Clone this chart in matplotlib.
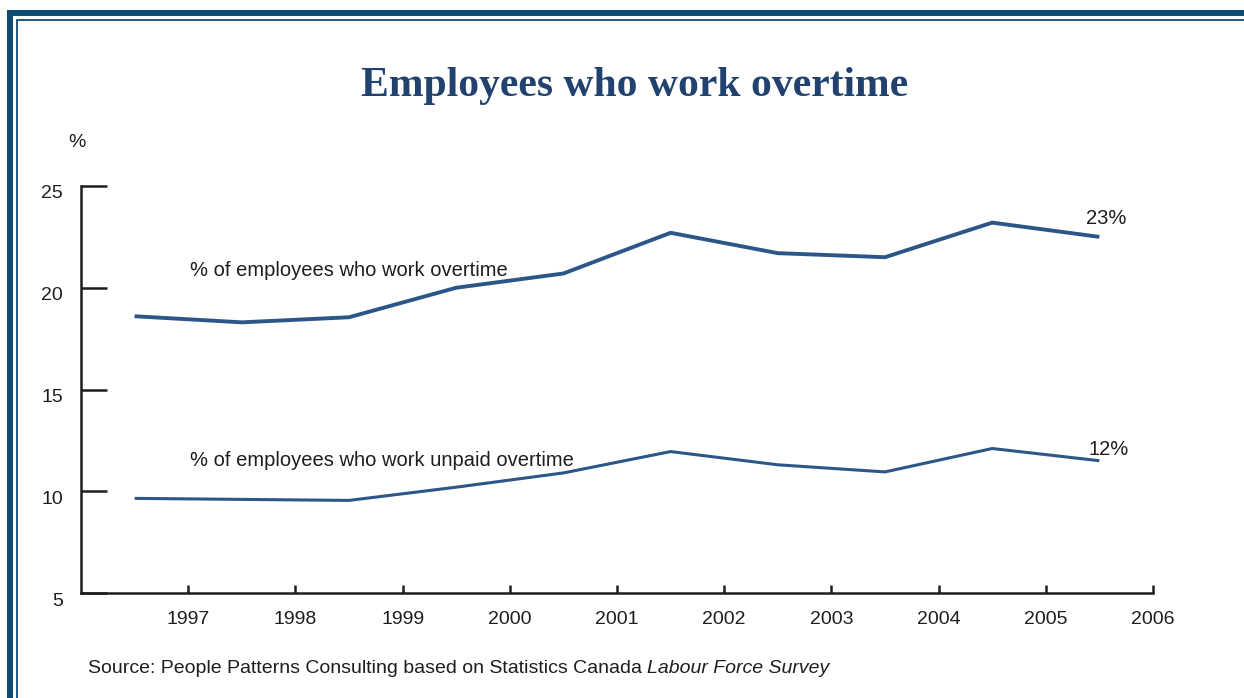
import math
import matplotlib
matplotlib.use("Agg")
import matplotlib.pyplot as plt
from matplotlib.lines import Line2D
from matplotlib.transforms import ScaledTranslation

# Survey years (values plotted mid-year) and shares of employees, in %
years = [1996.5, 1997.5, 1998.5, 1999.5, 2000.5, 2001.5, 2002.5, 2003.5, 2004.5, 2005.5]
overtime = [18.6, 18.3, 18.55, 20.0, 20.7, 22.7, 21.7, 21.5, 23.2, 22.5]
unpaid_overtime = [9.65, 9.6, 9.55, 10.2, 10.9, 11.95, 11.3, 10.95, 12.1, 11.5]

year_ticks = list(range(1997, 2007))
pct_ticks = [5, 10, 15, 20, 25]

title = "Employees who work overtime"
label_overtime = "% of employees who work overtime"
label_unpaid = "% of employees who work unpaid overtime"
source_plain = "Source: People Patterns Consulting based on Statistics Canada "
source_italic = "Labour Force Survey"

W, H, DPI = 1244, 698, 100
line_blue = "#2c5687"
frame_blue = "#0f4a72"
title_blue = "#21426f"
ink = "#1e1e1e"

plt.rcParams["font.family"] = ["Liberation Sans", "DejaVu Sans"]

fig = plt.figure(figsize=(W / DPI, H / DPI), dpi=DPI, facecolor="white")


def fx(px):
    return px / W


def fy(py):
    return 1 - py / H


# Double frame along the top and left edges
fig.add_artist(Line2D([fx(10), fx(10), fx(W + 20)], [fy(H + 20), fy(13), fy(13)],
                      color=frame_blue, lw=6 * 72 / DPI, solid_joinstyle="miter"))
fig.add_artist(Line2D([fx(16.8), fx(16.8), fx(W + 20)], [fy(H + 20), fy(20), fy(20)],
                      color=frame_blue, lw=1.8 * 72 / DPI, solid_joinstyle="miter"))

ax = fig.add_axes([fx(81), fy(593), fx(1153) - fx(81), fy(186) - fy(593)])
ax.set_facecolor("none")

ax.plot(years, overtime, color=line_blue, lw=2.8, solid_capstyle="butt")
ax.plot(years, unpaid_overtime, color=line_blue, lw=2.2, solid_capstyle="butt")

ax.set_xlim(1996, 2006)
ax.set_ylim(5, 25)
ax.set_xticks(year_ticks)
ax.set_xticklabels([str(y) for y in year_ticks])
ax.set_yticks(pct_ticks)
ax.set_yticklabels([str(v) for v in pct_ticks])

for side in ("top", "right"):
    ax.spines[side].set_visible(False)
for side in ("left", "bottom"):
    ax.spines[side].set_linewidth(1.8)
    ax.spines[side].set_color(ink)

ax.tick_params(axis="x", direction="in", length=6, width=1.8, color=ink,
               labelsize=14, labelcolor=ink, pad=13)
ax.tick_params(axis="y", direction="in", length=19, width=1.8, color=ink,
               labelsize=14, labelcolor=ink, pad=13)
shift = ScaledTranslation(0, -6 / DPI, fig.dpi_scale_trans)
for lab in ax.get_yticklabels():
    lab.set_transform(lab.get_transform() + shift)

# Series labels
ax.text(1997.02, 20.6, label_overtime, fontsize=14.5, color=ink, va="baseline", ha="left")
ax.text(1997.02, 11.25, label_unpaid, fontsize=14.5, color=ink, va="baseline", ha="left")

# End-of-series value labels, rounded half up from the last values
for series, offset in ((overtime, (-10, 9)), (unpaid_overtime, (-8, 4))):
    last = series[-1]
    ax.annotate(f"{math.floor(last + 0.5)}%", xy=(years[-1], last),
                xytext=offset, textcoords="offset points",
                fontsize=14.5, color=ink, ha="left", va="baseline")

# Title, unit label and source note
fig.text(fx(635), fy(96), title, fontsize=30, fontweight="bold",
         family=["Liberation Serif", "DejaVu Serif"], color=title_blue,
         ha="center", va="baseline")
fig.text(fx(77), fy(147), "%", fontsize=14, color=ink, ha="center", va="baseline")
src = fig.text(fx(88), fy(673), source_plain, fontsize=14, color=ink,
               ha="left", va="baseline")
src_it = fig.text(fx(88), fy(673), source_italic, fontsize=14, color=ink,
                  style="italic", ha="left", va="baseline")

# Place the italic part right after the plain part
fig.canvas.draw()
bb = src.get_window_extent()
src_it.set_position((bb.x1 / W, fy(673)))

fig.savefig("out.png", dpi=DPI, facecolor="white")
